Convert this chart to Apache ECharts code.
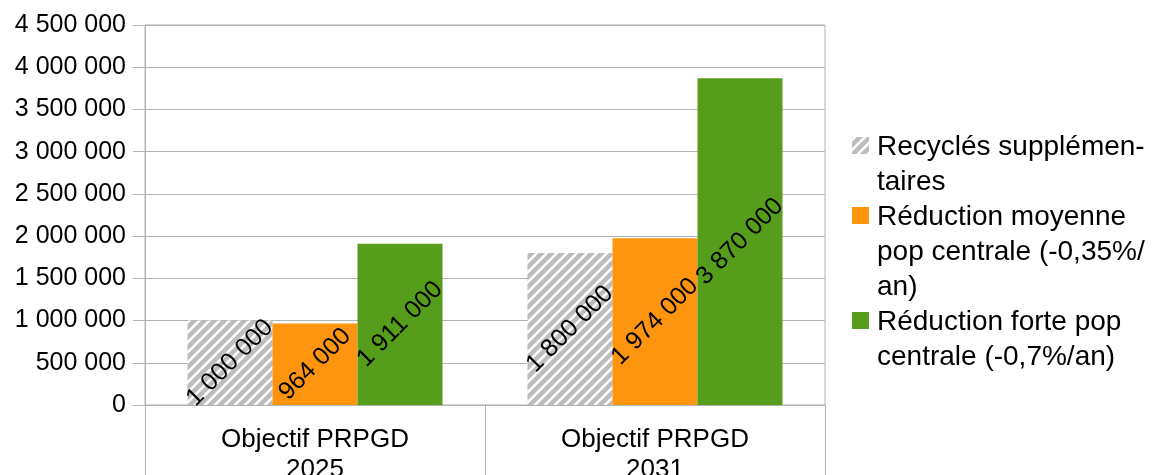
<!DOCTYPE html>
<html>
<head>
<meta charset="utf-8">
<script src="https://cdn.jsdelivr.net/npm/echarts@6/dist/echarts.min.js"></script>
<style>html,body{margin:0;padding:0;background:#fff;}#chart{width:1161px;height:475px;}</style>
</head>
<body>
<div id="chart"></div>
<script>
const categories = ['Objectif PRPGD\n2025', 'Objectif PRPGD\n2031'];
const seriesNames = ['Recyclés supplémentaires', 'Réduction moyenne pop centrale (-0,35%/an)', 'Réduction forte pop centrale (-0,7%/an)'];
const legendLabels = ['Recyclés supplémen-\ntaires', 'Réduction moyenne\npop centrale (-0,35%/\nan)', 'Réduction forte pop\ncentrale (-0,7%/an)'];
const recycles = [1000000, 1800000];
const reductionMoyenne = [964000, 1974000];
const reductionForte = [1911000, 3870000];
const yMin = 0, yMax = 4500000, yInterval = 500000;

const FONT = '"Liberation Sans", Arial, sans-serif';
const fmt = v => String(v).replace(/\B(?=(\d{3})+(?!\d))/g, ' ');

// hatch pattern (diagonal white stripes on grey)
const N = 10;
const cv = document.createElement('canvas');
cv.width = N; cv.height = N;
const cx = cv.getContext('2d');
cx.fillStyle = '#bdbdbd';
cx.fillRect(0, 0, N, N);
cx.strokeStyle = '#ffffff';
cx.lineWidth = 2.6;
[0, N, 2 * N].forEach(c => {
  cx.beginPath();
  cx.moveTo(c - N - 1, N + 1);
  cx.lineTo(c + 1, -1);
  cx.stroke();
});
const hatch = { image: cv, repeat: 'repeat' };
const colors = [hatch, '#ff950e', '#579d1c'];
const values = [recycles, reductionMoyenne, reductionForte];

const iconPath = h => `path://M0,0L17,0M0,7L17,7L17,24L0,24ZM0,${h}L17,${h}`;
const legendTops = [130, 200, 305];
const legendHeights = [70, 105, 70];

const chart = echarts.init(document.getElementById('chart'), null, { renderer: 'canvas' });
chart.setOption({
  animation: false,
  backgroundColor: '#fff',
  textStyle: { fontFamily: FONT },
  grid: { left: 145, right: 336, top: 25, bottom: 70, show: true, borderColor: '#b3b3b3', borderWidth: 1, containLabel: false, outerBoundsMode: 'none' },
  legend: seriesNames.map((n, i) => ({
    data: [n],
    left: 852,
    top: legendTops[i],
    padding: 0,
    itemWidth: 17,
    itemHeight: legendHeights[i],
    itemGap: 0,
    icon: iconPath(legendHeights[i]),
    selectedMode: false,
    formatter: name => legendLabels[seriesNames.indexOf(name)],
    textStyle: { fontFamily: FONT, fontSize: 28, lineHeight: 35, color: '#000', padding: [0, 0, 0, 3] }
  })),
  xAxis: {
    type: 'category',
    data: categories,
    axisLine: { show: true, lineStyle: { color: '#b3b3b3', width: 1 } },
    axisTick: { show: true, length: 70, interval: 0, lineStyle: { color: '#b3b3b3' } },
    axisLabel: { interval: 0, fontFamily: FONT, fontSize: 26, lineHeight: 30, margin: 20, color: '#000' },
    splitLine: { show: false }
  },
  yAxis: {
    type: 'value',
    min: yMin, max: yMax, interval: yInterval,
    axisLine: { show: true, lineStyle: { color: '#b3b3b3', width: 1 } },
    axisTick: { show: true, length: 12, lineStyle: { color: '#b3b3b3' } },
    axisLabel: { formatter: fmt, fontFamily: FONT, fontSize: 25, margin: 19, color: '#000' },
    splitLine: { show: true, lineStyle: { color: '#b3b3b3', width: 1 } }
  },
  series: seriesNames.map((n, i) => ({
    name: n,
    type: 'bar',
    data: values[i],
    barGap: '0%',
    barCategoryGap: '25%',
    itemStyle: { color: colors[i] },
    label: {
      show: true, position: 'inside', rotate: 45,
      formatter: p => fmt(p.value),
      fontFamily: FONT, fontSize: 25, color: '#000', textBorderWidth: 0
    }
  }))
});
</script>
</body>
</html>
